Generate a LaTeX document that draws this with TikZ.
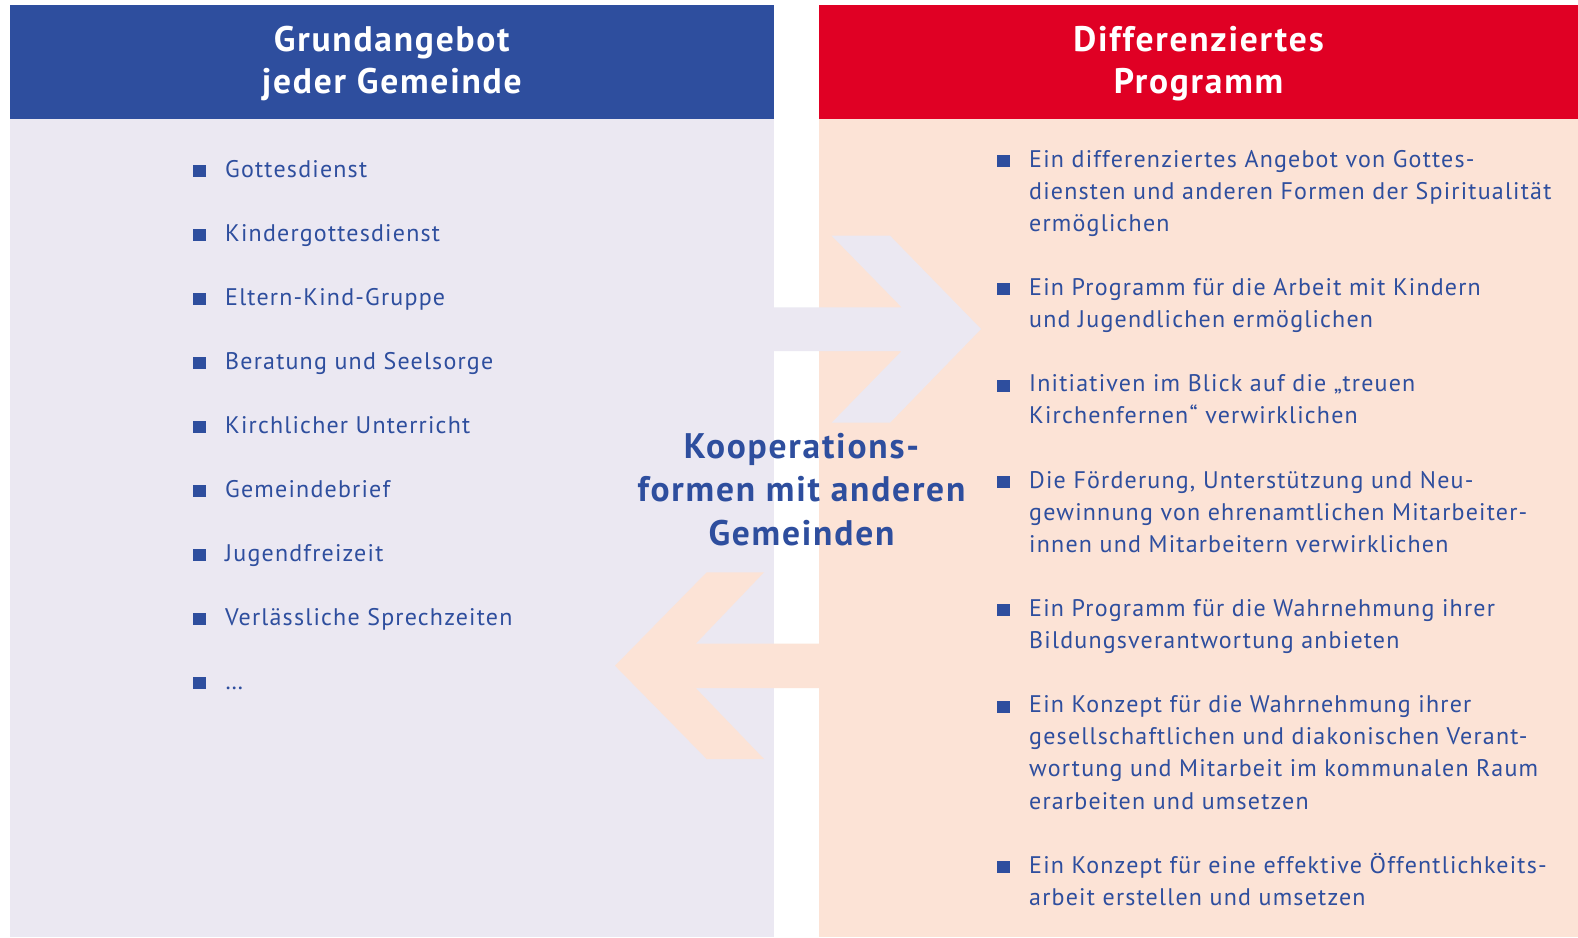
\documentclass[tikz,border=0pt]{standalone}
\usepackage{fontspec}
\setmainfont{PT Sans}
\newfontfamily\listfont{PT Sans}[LetterSpace=5]
\usepackage{tikz}
\usepackage{xcolor}
\definecolor{headblue}{RGB}{46,78,158}
\definecolor{headred}{RGB}{224,0,36}
\definecolor{panelgrey}{RGB}{235,232,242}
\definecolor{panelpeach}{RGB}{252,227,214}
\tikzset{
    head-box/.style = {minimum width=764.5pt, minimum height=113.5pt, inner sep=0pt},
    head-title/.style = {anchor=base, inner sep=0pt, align=center, text=white, font=\listfont\bfseries\fontsize{35.5}{41.5}\selectfont},
    item-text/.style = {anchor=base west, inner sep=0pt, text=headblue, font=\listfont\fontsize{24}{32.1}\selectfont},
    item-mark/.style = {fill=headblue, minimum width=12.5pt, minimum height=12pt, inner sep=0pt, anchor=south east},
    middle-text/.style = {anchor=base, inner sep=0pt, align=center, text=headblue, font=\listfont\bfseries\fontsize{35.5}{43.5}\selectfont},
}
\newcommand{\listentry}[4]{%
    \node[item-text] (#1) at (#2,#3) {\begin{tabular}[t]{@{}l@{}}#4\end{tabular}};
    \node[item-mark] (#1-mark) at ([xshift=-19pt]#1.base west) {};
}

\begin{document}
\begin{tikzpicture}[x=1pt, y=-1pt]
\useasboundingbox (0,0) rectangle (1578,937);
\fill[white] (0,0) rectangle (1578,937);
% panels
\fill[panelgrey] (9.5,5) rectangle (774,937);
\fill[panelpeach] (819,5) rectangle (1578,937);
\node[head-box, fill=headblue] (grund) at (391.75,61.75) {};
\node[head-box, fill=headred, minimum width=759pt] (programm) at (1198.5,61.75) {};
\node[head-title] (grund-title) at (grund.center |- 0,93) {Grundangebot\\jeder Gemeinde};
\node[head-title] (programm-title) at (programm.center |- 0,93) {Differenziertes\\Programm};
% arrows
\fill[panelgrey] (774,307.3) -- (901.7,307.3) -- (831.7,235.7) -- (890,235.7) -- (981,329) -- (890,422.7) -- (831.7,422.7) -- (901.7,351) -- (774,351) -- cycle;
\fill[panelpeach] (819,643.7) -- (695.7,643.7) -- (764,572.3) -- (706.7,572.3) -- (615,665.7) -- (706.7,759) -- (764,759) -- (695.7,688) -- (819,688) -- cycle;
\node[middle-text] (koop) at (801.5,545) {Kooperations-\\formen mit anderen\\Gemeinden};
% left list
\listentry{g1}{225}{177}{Gottesdienst}
\listentry{g2}{225}{241}{Kindergottesdienst}
\listentry{g3}{225}{305}{Eltern-Kind-Gruppe}
\listentry{g4}{225}{369}{Beratung und Seelsorge}
\listentry{g5}{225}{433}{Kirchlicher Unterricht}
\listentry{g6}{225}{497}{Gemeindebrief}
\listentry{g7}{225}{561}{Jugendfreizeit}
\listentry{g8}{225}{625}{Verlässliche Sprechzeiten}
\listentry{g9}{225}{689}{…}
% right list
\listentry{p1}{1029}{167}{Ein differenziertes Angebot von Gottes-\\diensten und anderen Formen der Spiritualität\\ermöglichen}
\listentry{p2}{1029}{295.4}{Ein Programm für die Arbeit mit Kindern\\und Jugendlichen ermöglichen}
\listentry{p3}{1029}{391.7}{Initiativen im Blick auf die „treuen\\Kirchenfernen“ verwirklichen}
\listentry{p4}{1029}{488}{Die Förderung, Unterstützung und Neu-\\gewinnung von ehrenamtlichen Mitarbeiter-\\innen und Mitarbeitern verwirklichen}
\listentry{p5}{1029}{616.4}{Ein Programm für die Wahrnehmung ihrer\\Bildungsverantwortung anbieten}
\listentry{p6}{1029}{712.7}{Ein Konzept für die Wahrnehmung ihrer\\gesellschaftlichen und diakonischen Verant-\\wortung und Mitarbeit im kommunalen Raum\\erarbeiten und umsetzen}
\listentry{p7}{1029}{873.2}{Ein Konzept für eine effektive Öffentlichkeits-\\arbeit erstellen und umsetzen}
\end{tikzpicture}
\end{document}
